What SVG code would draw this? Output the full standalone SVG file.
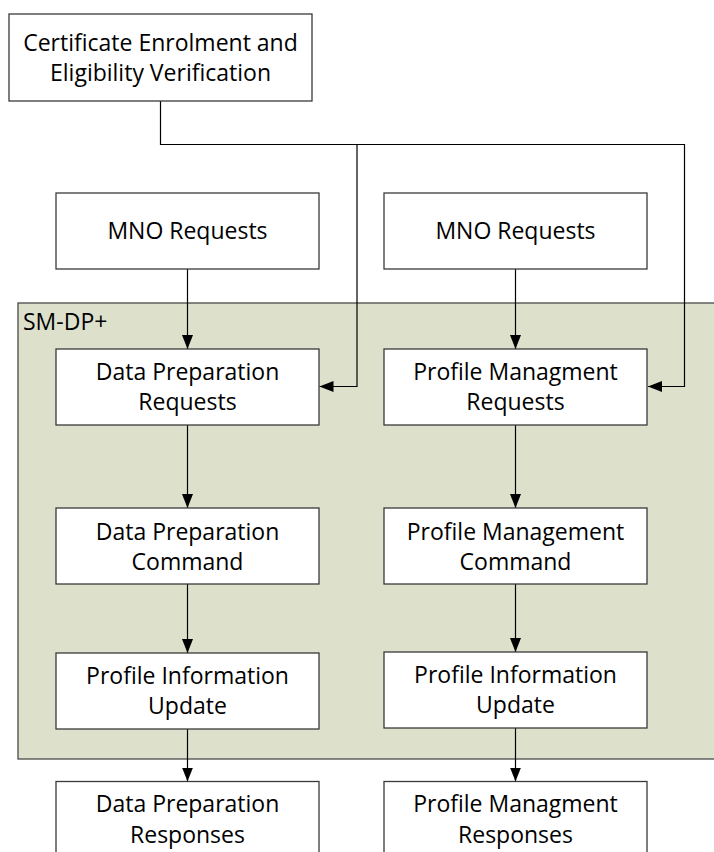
<svg xmlns="http://www.w3.org/2000/svg" width="714" height="852" viewBox="0 0 714 852">
<style>
.box{fill:#ffffff;stroke:#3a3a3a;stroke-width:1.3}
.lbl{font-family:"Open Sans","Liberation Sans",sans-serif;font-size:23px;fill:#000000;text-anchor:middle}
.cn{fill:none;stroke:#000000;stroke-width:1.2}
</style>
<defs>
<marker id="ah" markerUnits="userSpaceOnUse" markerWidth="14" markerHeight="12" refX="14" refY="6" orient="auto">
<path d="M0,0.5 L14,6 L0,11.5 z" fill="#000000"/>
</marker>
</defs>
<rect width="714" height="852" fill="#ffffff"/>
<g id="smdp">
<rect x="18" y="303" width="710" height="456" fill="#dde1cc" stroke="#4a4a4a" stroke-width="1.3"/>
<text x="23" y="330" style="font-family:'Open Sans','Liberation Sans',sans-serif;font-size:23px">SM-DP+</text>
</g>
<g id="connectors">
<path class="cn" d="M160.5,101 V144.5 H684.5 V386.5 H648" marker-end="url(#ah)"/>
<path class="cn" d="M357,144.5 V386.5 H319.5" marker-end="url(#ah)"/>
<path class="cn" d="M187.5,269 V349" marker-end="url(#ah)"/>
<path class="cn" d="M515.5,269 V349" marker-end="url(#ah)"/>
<path class="cn" d="M187.5,425 V508" marker-end="url(#ah)"/>
<path class="cn" d="M515.5,425 V508" marker-end="url(#ah)"/>
<path class="cn" d="M187.5,584 V653" marker-end="url(#ah)"/>
<path class="cn" d="M515.5,584 V652" marker-end="url(#ah)"/>
<path class="cn" d="M187.5,729 V781.5" marker-end="url(#ah)"/>
<path class="cn" d="M515.5,728 V781.5" marker-end="url(#ah)"/>
</g>
<g id="cert">
<rect class="box" x="9" y="14" width="303" height="87"/>
<text class="lbl" x="160.5" y="51">Certificate Enrolment and</text>
<text class="lbl" x="160.5" y="81">Eligibility Verification</text>
</g>
<g id="mno1">
<rect class="box" x="56" y="193" width="263" height="76"/>
<text class="lbl" x="187.5" y="239">MNO Requests</text>
</g>
<g id="mno2">
<rect class="box" x="384" y="193" width="263" height="76"/>
<text class="lbl" x="515.5" y="239">MNO Requests</text>
</g>
<g id="dpreq">
<rect class="box" x="56" y="349" width="263" height="76"/>
<text class="lbl" x="187.5" y="380">Data Preparation</text>
<text class="lbl" x="187.5" y="410">Requests</text>
</g>
<g id="pmreq">
<rect class="box" x="384" y="349" width="263" height="76"/>
<text class="lbl" x="515.5" y="380">Profile Managment</text>
<text class="lbl" x="515.5" y="410">Requests</text>
</g>
<g id="dpcmd">
<rect class="box" x="56" y="508" width="263" height="76"/>
<text class="lbl" x="187.5" y="540">Data Preparation</text>
<text class="lbl" x="187.5" y="570">Command</text>
</g>
<g id="pmcmd">
<rect class="box" x="384" y="508" width="263" height="76"/>
<text class="lbl" x="515.5" y="540">Profile Management</text>
<text class="lbl" x="515.5" y="570">Command</text>
</g>
<g id="piu1">
<rect class="box" x="56" y="653" width="263" height="76"/>
<text class="lbl" x="187.5" y="684">Profile Information</text>
<text class="lbl" x="187.5" y="714">Update</text>
</g>
<g id="piu2">
<rect class="box" x="384" y="652" width="263" height="76"/>
<text class="lbl" x="515.5" y="683">Profile Information</text>
<text class="lbl" x="515.5" y="713">Update</text>
</g>
<g id="dpresp">
<rect class="box" x="56" y="781.5" width="263" height="80"/>
<text class="lbl" x="187.5" y="812">Data Preparation</text>
<text class="lbl" x="187.5" y="843">Responses</text>
</g>
<g id="pmresp">
<rect class="box" x="384" y="781.5" width="263" height="80"/>
<text class="lbl" x="515.5" y="812">Profile Managment</text>
<text class="lbl" x="515.5" y="843">Responses</text>
</g>
</svg>
